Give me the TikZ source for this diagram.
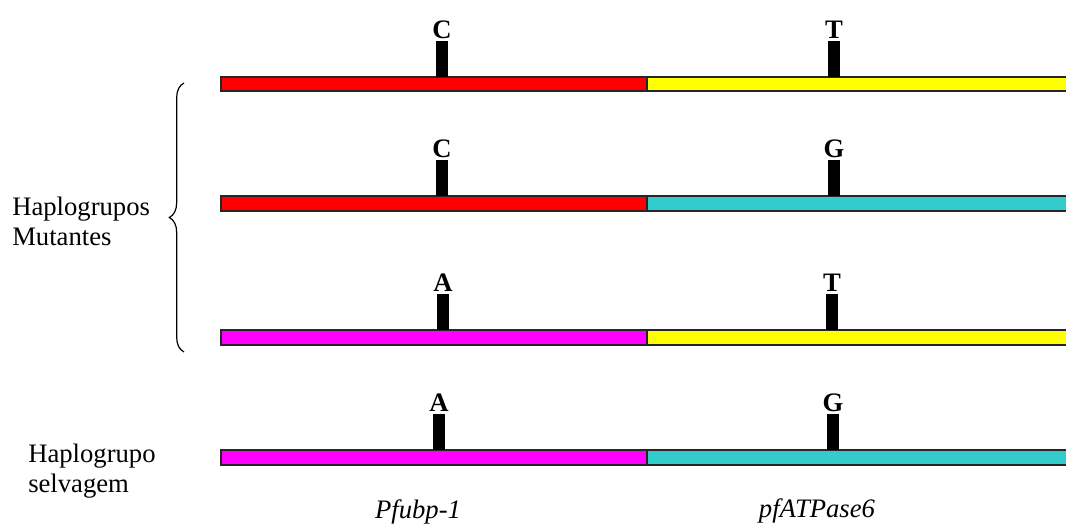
\documentclass[tikz,border=0pt]{standalone}
\usepackage{fontspec}
\setmainfont{Liberation Serif}
\usetikzlibrary{decorations.pathreplacing}

\definecolor{snpred}{RGB}{255,0,0}
\definecolor{snpyellow}{RGB}{255,255,0}
\definecolor{snpmagenta}{RGB}{255,0,255}
\definecolor{snpcyan}{RGB}{51,204,204}

\begin{document}
\begin{tikzpicture}[x=0.75pt, y=-0.75pt,
    gene/.style={draw=black!85, line width=1.1pt},
    snp/.style={fill=black, inner sep=0pt, minimum width=9pt, minimum height=27pt, anchor=south},
    nt/.style={font=\fontsize{20}{22.5}\selectfont\bfseries, inner sep=0pt, anchor=base},
    txt/.style={font=\fontsize{20}{22.5}\selectfont, inner sep=0pt, anchor=base west, align=left},
    gname/.style={font=\fontsize{20}{22.5}\selectfont\itshape, inner sep=0pt, anchor=base}]
    \useasboundingbox (0,0) rectangle (1066,527);

    % haplogrupo 1: C / T
    \draw[gene, fill=snpred] (221,77) rectangle (647,91);
    \draw[gene, fill=snpyellow] (647,77) rectangle (1072,91);
    \node[snp] (s1a) at (442,77) {};
    \node[nt] (b1a) at ([yshift=1.5pt]s1a.north) {C};
    \node[snp] (s1b) at (834,77) {};
    \node[nt] (b1b) at ([yshift=1.5pt]s1b.north) {T};

    % haplogrupo 2: C / G
    \draw[gene, fill=snpred] (221,196) rectangle (647,211);
    \draw[gene, fill=snpcyan] (647,196) rectangle (1072,211);
    \node[snp] (s2a) at (442,196) {};
    \node[nt] (b2a) at ([yshift=1.5pt]s2a.north) {C};
    \node[snp] (s2b) at (834,196) {};
    \node[nt] (b2b) at ([yshift=1.5pt]s2b.north) {G};

    % haplogrupo 3: A / T
    \draw[gene, fill=snpmagenta] (221,330) rectangle (647,345);
    \draw[gene, fill=snpyellow] (647,330) rectangle (1072,345);
    \node[snp] (s3a) at (443,330) {};
    \node[nt] (b3a) at ([yshift=1.5pt]s3a.north) {A};
    \node[snp] (s3b) at (832,330) {};
    \node[nt] (b3b) at ([yshift=1.5pt]s3b.north) {T};

    % selvagem: A / G
    \draw[gene, fill=snpmagenta] (221,450) rectangle (647,465);
    \draw[gene, fill=snpcyan] (647,450) rectangle (1072,465);
    \node[snp] (s4a) at (439,450) {};
    \node[nt] (b4a) at ([yshift=1.5pt]s4a.north) {A};
    \node[snp] (s4b) at (833,450) {};
    \node[nt] (b4b) at ([yshift=1.5pt]s4b.north) {G};

    % chave e legendas (base = ultima linha)
    \draw[line width=0.9pt, decorate, decoration={brace, amplitude=11pt}] (184,352) -- (184,83);
    \node[txt] (mut) at (12,245) {Haplogrupos\\Mutantes};
    \node[txt] (wild) at (28,492) {Haplogrupo\\selvagem};
    \node[gname] (g1) at (418,518) {Pfubp-1};
    \node[gname] (g2) at (817,517) {pfATPase6};
\end{tikzpicture}
\end{document}
